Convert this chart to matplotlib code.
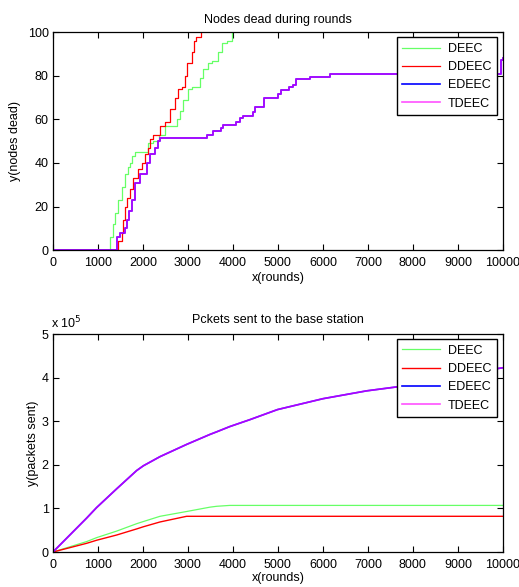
import matplotlib
matplotlib.use("Agg")
import matplotlib.pyplot as plt
from matplotlib.ticker import FuncFormatter

plt.rcParams['font.family'] = ['Liberation Sans', 'DejaVu Sans']
plt.rcParams['font.size'] = 9

# ---------------- Data: nodes dead vs rounds (step curves) ----------------
deec_r = [0, 1190, 1270, 1330, 1380, 1450, 1530, 1600, 1660, 1710, 1760, 1820, 2040, 2120,
          2220, 2350, 2490, 2710, 2760, 2820, 2900, 3010, 3080, 3270, 3340, 3450, 3530,
          3670, 3750, 3860, 3970]
deec_d = [0, 0, 6, 12, 17, 23, 29, 35, 38, 40, 43, 45, 45, 49,
          50, 53, 57, 57, 60, 64, 69, 74, 75, 79, 83, 86, 87,
          91, 95, 96, 100]

ddeec_r = [0, 1380, 1450, 1530, 1560, 1600, 1650, 1710, 1785, 1900, 1970, 2045, 2120, 2150,
           2230, 2380, 2490, 2600, 2710, 2790, 2860, 2930, 2970, 3080, 3130, 3190, 3300]
ddeec_d = [0, 0, 4, 8, 14, 20, 24, 28, 33, 37, 40, 44, 47, 51,
           53, 57, 59, 65, 70, 74, 75, 80, 86, 91, 96, 98, 100]

edeec_r = [0, 1340, 1415, 1490, 1600, 1640, 1700, 1750, 1820, 1930, 2080, 2150, 2270, 2340,
           2370, 3430, 3560, 3730, 3790, 4070, 4150, 4220, 4440, 4480, 4700, 5000, 5070,
           5250, 5330, 5400, 5710, 6150, 9950, 10000]
edeec_d = [0, 0, 6, 8, 10, 14, 18, 23, 31, 35, 40, 44, 47, 50,
           51.5, 53, 54.5, 56, 57.5, 59, 60.5, 61.5, 63.5, 65.7, 69.6, 71.6, 73.7,
           75, 75.7, 78.7, 79.5, 81, 87.5, 88]
tdeec_r = edeec_r
tdeec_d = edeec_d

# ---------------- Data: packets sent to base station ----------------
pk_r = [0, 750, 970, 1415, 1860, 2010, 2380, 2970, 3490, 3640, 3930, 4380, 4990, 6000,
        6970, 7930, 8500, 9000, 9500, 9800, 10000]
deec_p = [0, 0.24e5, 0.33e5, 0.48e5, 0.65e5, 0.70e5, 0.82e5, 0.93e5, 1.03e5, 1.05e5, 1.07e5,
          1.07e5, 1.07e5, 1.07e5, 1.07e5, 1.07e5, 1.07e5, 1.07e5, 1.07e5, 1.07e5, 1.07e5]
ddeec_p = [0, 0.20e5, 0.27e5, 0.39e5, 0.53e5, 0.58e5, 0.69e5, 0.82e5, 0.82e5, 0.82e5, 0.82e5,
           0.82e5, 0.82e5, 0.82e5, 0.82e5, 0.82e5, 0.82e5, 0.82e5, 0.82e5, 0.82e5, 0.82e5]
edeec_p = [0, 0.78e5, 1.02e5, 1.45e5, 1.87e5, 1.98e5, 2.19e5, 2.47e5, 2.70e5, 2.76e5, 2.88e5,
           3.04e5, 3.27e5, 3.52e5, 3.70e5, 3.83e5, 3.92e5, 4.00e5, 4.10e5, 4.20e5, 4.23e5]
tdeec_p = edeec_p

labels = ['DEEC', 'DDEEC', 'EDEEC', 'TDEEC']
x_ticks = list(range(0, 10001, 1000))

c_deec = '#66ff66'
c_ddeec = '#ff0000'
c_edeec = '#0000ff'
c_tdeec = '#ff00ff'

fig = plt.figure(figsize=(5.19, 5.87), dpi=100)
ax1 = fig.add_axes([0.102, 0.574, 0.867, 0.371])
ax2 = fig.add_axes([0.102, 0.0596, 0.867, 0.371])

ax1.plot(deec_r, deec_d, drawstyle='steps-post', color=c_deec, lw=0.9, label=labels[0])
ax1.plot(ddeec_r, ddeec_d, drawstyle='steps-post', color=c_ddeec, lw=0.9, label=labels[1])
ax1.plot(edeec_r, edeec_d, drawstyle='steps-post', color=c_edeec, lw=1.2, label=labels[2])
ax1.plot(tdeec_r, tdeec_d, drawstyle='steps-post', color=c_tdeec, lw=1.2, alpha=0.68, label=labels[3])

ax2.plot(pk_r, deec_p, color=c_deec, lw=0.9, label=labels[0])
ax2.plot(pk_r, ddeec_p, color=c_ddeec, lw=1.0, label=labels[1])
ax2.plot(pk_r, edeec_p, color=c_edeec, lw=1.2, label=labels[2])
ax2.plot(pk_r, tdeec_p, color=c_tdeec, lw=1.2, alpha=0.68, label=labels[3])

for ax in (ax1, ax2):
    ax.set_xlim(0, 10000)
    ax.set_xticks(x_ticks)
    ax.tick_params(direction='in', top=True, right=True, length=4, width=0.8, labelsize=9, pad=3)
    ax.tick_params(axis='x', pad=5)
    for s in ax.spines.values():
        s.set_linewidth(0.9)
    leg = ax.legend(loc='upper right', fontsize=9, fancybox=False, framealpha=1,
                    edgecolor='black', borderpad=0.45, handlelength=3.0, handletextpad=0.65,
                    labelspacing=0.5, borderaxespad=0.0,
                    bbox_to_anchor=(0.987, 0.977))
    leg.get_frame().set_linewidth(1.0)

ax1.set_ylim(0, 100)
ax1.set_yticks([0, 20, 40, 60, 80, 100])
ax1.set_title('Nodes dead during rounds', fontsize=9, pad=7)
ax1.set_xlabel('x(rounds)', fontsize=9, labelpad=2)
ax1.set_ylabel('y(nodes dead)', fontsize=9, labelpad=5)

ax2.set_ylim(0, 5e5)
ax2.set_yticks([0, 1e5, 2e5, 3e5, 4e5, 5e5])
ax2.yaxis.set_major_formatter(FuncFormatter(lambda v, p: '%d' % round(v / 1e5)))
ax2.text(-0.005, 1.015, 'x 10$^5$', transform=ax2.transAxes, fontsize=9, ha='left', va='bottom')
ax2.set_title('Pckets sent to the base station', fontsize=9, pad=8)
ax2.set_xlabel('x(rounds)', fontsize=9, labelpad=1)
ax2.set_ylabel('y(packets sent)', fontsize=9, labelpad=2)

fig.savefig('out.png', dpi=100)
